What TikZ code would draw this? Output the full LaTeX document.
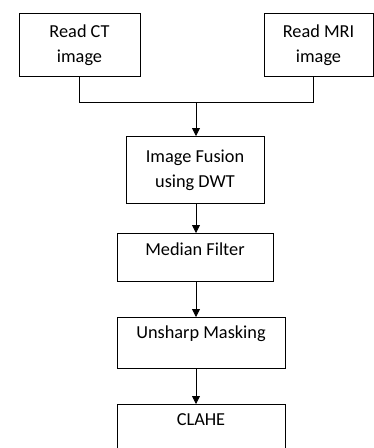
\documentclass[tikz,border=0pt]{standalone}
\usepackage{fontspec}
\setmainfont{Carlito}
\usetikzlibrary{arrows.meta}

\begin{document}
\begin{tikzpicture}[
        x=1pt, y=-1pt,
        box/.style={rectangle, draw, line width=0.8pt, font=\fontsize{18.3}{25}\selectfont, align=center, anchor=north},
        topbox/.style={box, inner ysep=0pt},
        line/.style={line width=0.8pt},
        arrow/.style={->, >={Triangle[width=8pt,length=8pt]}, line width=0.8pt}
    ]
    \useasboundingbox (0,0) rectangle (374,448);

    \node[box, minimum width=121pt, minimum height=63pt] (ct) at (79.5,13) {Read CT\\image};
    \node[box, minimum width=109pt, minimum height=63pt] (mri) at (318.5,13) {Read MRI\\image};
    \node[box, minimum width=138pt, minimum height=67pt] (fusion) at (195,136) {Image Fusion\\using DWT};
    \node[topbox, minimum width=156pt, text height=22.5pt, text depth=25.5pt] (median) at (195,233) {Median Filter};
    \node[topbox, minimum width=168pt, text height=21.5pt, text depth=29.5pt] (unsharp) at (201,317) {Unsharp Masking};
    \node[topbox, minimum width=168pt, text height=21.5pt, text depth=50pt] (clahe) at (201,404) {CLAHE};

    \coordinate (join) at (196,102);
    \coordinate (mrifoot) at (313,76);

    \draw[line] (ct.south) |- (join);
    \draw[line] (mrifoot) |- (join);
    \draw[arrow] (join) -- (fusion.north -| join);
    \draw[arrow] (fusion.south -| join) -- (median.north -| join);
    \draw[arrow] (median.south -| join) -- (unsharp.north -| join);
    \draw[arrow] (unsharp.south -| join) -- (clahe.north -| join);

\end{tikzpicture}
\end{document}
